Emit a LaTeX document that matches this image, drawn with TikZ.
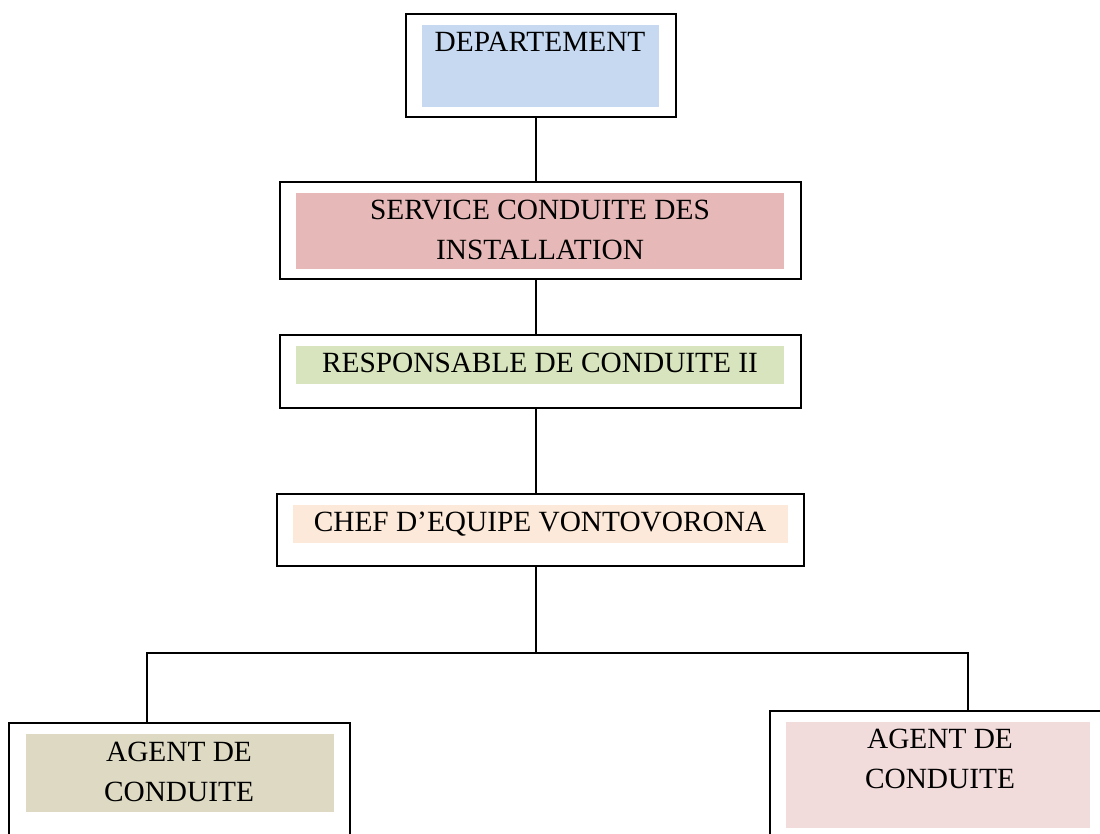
\documentclass[tikz,border=0pt]{standalone}
\usepackage{fontspec}
\setmainfont{Liberation Serif}
\usepackage{tikz}
\usetikzlibrary{positioning,calc}
\definecolor{bleu}{RGB}{198,217,241}
\definecolor{rose}{RGB}{230,185,184}
\definecolor{vert}{RGB}{215,228,189}
\definecolor{peche}{RGB}{253,233,217}
\definecolor{kaki}{RGB}{221,217,195}
\definecolor{rosepale}{RGB}{242,220,219}

\begin{document}
\begin{tikzpicture}[x=0.75pt, y=-0.75pt,
        cadre/.style={rectangle, draw, line width=1.6pt, fill=white, inner sep=0pt},
        fond/.style={rectangle, inner sep=0pt},
        texte/.style={anchor=north, inner sep=0pt, align=center, font=\fontsize{22}{29.5}\selectfont},
        lien/.style={draw, line width=1.2pt}]

        \useasboundingbox (0,0) rectangle (1100,833);
        \clip (0,0) rectangle (1100,833);

        % cadres
        \node [cadre, minimum width=202.5pt, minimum height=77.25pt] (dep) at (541,65.5) {};
        \node [cadre, minimum width=390.75pt, minimum height=72.75pt] (serv) at (540.5,230.5) {};
        \node [cadre, minimum width=390.75pt, minimum height=54.75pt] (resp) at (540.5,371.5) {};
        \node [cadre, minimum width=395.25pt, minimum height=54pt] (chef) at (540.5,530) {};
        \node [cadre, minimum width=255.75pt, minimum height=132.75pt] (agentg) at (179.5,811.5) {};
        \node [cadre, minimum width=270pt, minimum height=141.75pt] (agentd) at (950,805.5) {};

        % fonds
        \node [fond, fill=bleu, minimum width=177.75pt, minimum height=61.5pt] (depfond) at (540.5,66) {};
        \node [fond, fill=rose, minimum width=366pt, minimum height=57pt] (servfond) at (540,231) {};
        \node [fond, fill=vert, minimum width=366pt, minimum height=28.5pt] (respfond) at (540,365) {};
        \node [fond, fill=peche, minimum width=371.25pt, minimum height=28.5pt] (cheffond) at (540.5,524) {};
        \node [fond, fill=kaki, minimum width=231pt, minimum height=58.5pt] (agentgfond) at (180,773) {};
        \node [fond, fill=rosepale, minimum width=228pt, minimum height=79.5pt] (agentdfond) at (938,775) {};

        % textes
        \node [texte] (deptxt) at (540,32) {DEPARTEMENT};
        \node [texte] (servtxt) at (540,200) {SERVICE CONDUITE DES\\INSTALLATION};
        \node [texte] (resptxt) at (540,353) {RESPONSABLE DE CONDUITE II};
        \node [texte] (cheftxt) at (540,512) {CHEF D’EQUIPE VONTOVORONA};
        \node [texte] (agentgtxt) at (179,742) {AGENT DE\\CONDUITE};
        \node [texte] (agentdtxt) at (940,729) {AGENT DE\\CONDUITE};

        % liaisons
        \coordinate (fork) at (536,653);
        \coordinate (forkg) at (147,653);
        \coordinate (forkd) at (968,653);
        \path [lien] (dep.south -| fork) -- (serv.north -| fork);
        \path [lien] (serv.south -| fork) -- (resp.north -| fork);
        \path [lien] (resp.south -| fork) -- (chef.north -| fork);
        \path [lien] (chef.south -| fork) -- (fork);
        \path [lien] (agentg.north -| forkg) -- (forkg) -- (forkd) -- (agentd.north -| forkd);
    \end{tikzpicture}
\end{document}
